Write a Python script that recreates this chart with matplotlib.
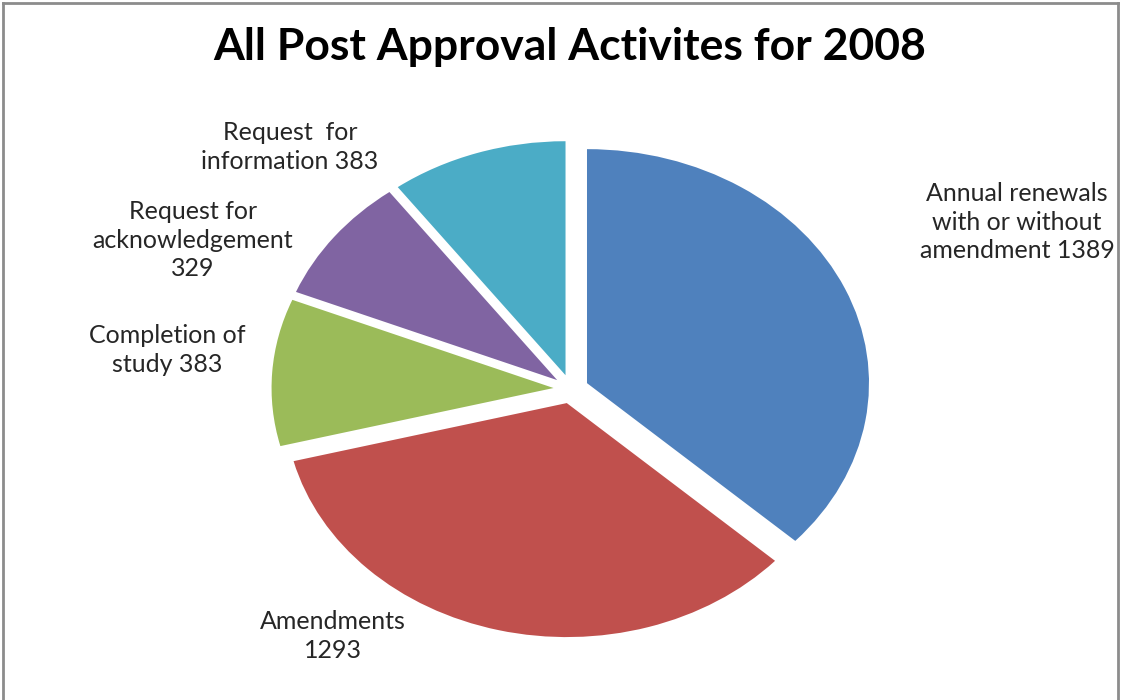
"""Pie chart: all post approval activities for 2008."""

import matplotlib

matplotlib.use("Agg")
import matplotlib.pyplot as plt  # noqa: E402
from matplotlib.lines import Line2D  # noqa: E402

categories = [
    "Annual renewals\nwith or without\namendment",
    "Amendments",
    "Completion of\nstudy",
    "Request for\nacknowledgement",
    "Request  for\ninformation",
]
values = [1389, 1293, 383, 329, 383]
label_seps = [" ", "\n", " ", "\n", " "]
colors = ["#4F81BD", "#C0504D", "#9BBB59", "#8064A2", "#4BACC6"]

# label centres in pixel coords (x from left, y from top)
label_pos = [(1017, 222), (333, 636), (167, 350), (193, 240), (290, 147)]

W, H = 1124, 700
plt.rcParams["font.family"] = ["Lato", "DejaVu Sans"]

fig = plt.figure(figsize=(W / 100, H / 100), dpi=100)
ax = fig.add_axes([0, 0, 1, 1])
ax.pie(values, colors=colors, startangle=90, counterclock=False,
       explode=[0.062] * len(values), wedgeprops={"linewidth": 0})
# Excel stretches the pie into an ellipse
ax.set_aspect("auto")
cx, cy, rx, ry = 571, 389, 282, 234
ax.set_xlim(-cx / rx, (W - cx) / rx)
ax.set_ylim(-(H - cy) / ry, cy / ry)
ax.set_axis_off()

for cat, val, sep, (px, py) in zip(categories, values, label_seps, label_pos):
    fig.text(px / W, 1 - py / H, f"{cat}{sep}{val}", ha="center", va="center",
             fontsize=18, color="#262626", linespacing=1.3)

fig.text(570 / W, 1 - 47 / H, "All Post Approval Activites for 2008",
         ha="center", va="center", fontsize=32, fontweight="bold")

# chart border (top, left, right)
for xs, ys in (([3, 1118], [3, 3]), ([3, 3], [3, 700]), ([1118, 1118], [3, 700])):
    fig.add_artist(Line2D([x / W for x in xs], [1 - y / H for y in ys],
                          color="#8c8c8c", lw=2))

fig.savefig("out.png", dpi=100)
plt.close(fig)
